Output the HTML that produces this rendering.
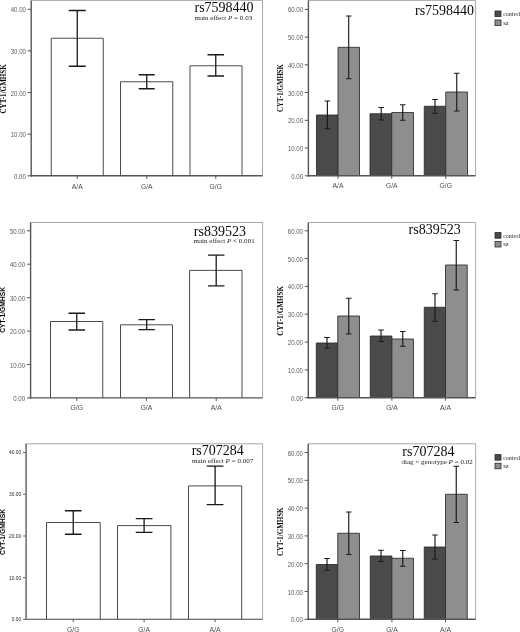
<!DOCTYPE html>
<html><head><meta charset="utf-8"><title>CYT-1/GMHSK by genotype</title>
<style>
html,body{margin:0;padding:0;background:#fff;}
body{width:520px;height:632px;overflow:hidden;font-family:"Liberation Serif",serif;}
svg{display:block;filter:grayscale(1);}
</style></head><body>
<svg width="520" height="632" viewBox="0 0 520 632">
<rect width="520" height="632" fill="#fff"/>
<line x1="27.599999999999998" y1="9.3" x2="31.2" y2="9.3" stroke="#555" stroke-width="1"/>
<text x="25.9" y="12.3" text-anchor="end" textLength="15.2" lengthAdjust="spacingAndGlyphs" font-family='"Liberation Sans", sans-serif' font-size="7.2" fill="#5a5a5a">40.00</text>
<line x1="27.599999999999998" y1="50.8" x2="31.2" y2="50.8" stroke="#555" stroke-width="1"/>
<text x="25.9" y="53.8" text-anchor="end" textLength="15.2" lengthAdjust="spacingAndGlyphs" font-family='"Liberation Sans", sans-serif' font-size="7.2" fill="#5a5a5a">30.00</text>
<line x1="27.599999999999998" y1="92.5" x2="31.2" y2="92.5" stroke="#555" stroke-width="1"/>
<text x="25.9" y="95.5" text-anchor="end" textLength="15.2" lengthAdjust="spacingAndGlyphs" font-family='"Liberation Sans", sans-serif' font-size="7.2" fill="#5a5a5a">20.00</text>
<line x1="27.599999999999998" y1="134.2" x2="31.2" y2="134.2" stroke="#555" stroke-width="1"/>
<text x="25.9" y="137.2" text-anchor="end" textLength="15.2" lengthAdjust="spacingAndGlyphs" font-family='"Liberation Sans", sans-serif' font-size="7.2" fill="#5a5a5a">10.00</text>
<line x1="27.599999999999998" y1="175.8" x2="31.2" y2="175.8" stroke="#555" stroke-width="1"/>
<text x="25.9" y="178.8" text-anchor="end" textLength="11.9" lengthAdjust="spacingAndGlyphs" font-family='"Liberation Sans", sans-serif' font-size="7.2" fill="#5a5a5a">0.00</text>
<path d="M51.25 175.8V38.25H103.25V175.8" fill="#fff" stroke="#2a2a2a" stroke-width="0.85"/>
<path d="M120.5 175.8V81.75H172.75V175.8" fill="#fff" stroke="#2a2a2a" stroke-width="0.85"/>
<path d="M190 175.8V65.75H242V175.8" fill="#fff" stroke="#2a2a2a" stroke-width="0.85"/>
<path d="M77.25 10.5V66.25M68.75 10.5H85.75M68.75 66.25H85.75" fill="none" stroke="#1a1a1a" stroke-width="1.3"/>
<path d="M146.75 74.75V88.75M138.75 74.75H154.75M138.75 88.75H154.75" fill="none" stroke="#1a1a1a" stroke-width="1.3"/>
<path d="M215.75 54.75V76M207.5 54.75H224.0M207.5 76H224.0" fill="none" stroke="#1a1a1a" stroke-width="1.3"/>
<path d="M31.2 0.4H262.5V175.8" fill="none" stroke="#a8a8a8" stroke-width="1"/>
<path d="M30.5 175.8H262.5" fill="none" stroke="#555" stroke-width="1.4"/>
<path d="M31.2 0.4V176.5" fill="none" stroke="#555" stroke-width="1.4"/>
<line x1="77.25" y1="175.8" x2="77.25" y2="178.8" stroke="#555" stroke-width="1"/>
<text x="77.25" y="188.6" text-anchor="middle" textLength="11.0" lengthAdjust="spacingAndGlyphs" font-family='"Liberation Sans", sans-serif' font-size="7.3" fill="#4c4c4c">A/A</text>
<line x1="146.75" y1="175.8" x2="146.75" y2="178.8" stroke="#555" stroke-width="1"/>
<text x="146.75" y="188.6" text-anchor="middle" textLength="11.5" lengthAdjust="spacingAndGlyphs" font-family='"Liberation Sans", sans-serif' font-size="7.3" fill="#4c4c4c">G/A</text>
<line x1="215.75" y1="175.8" x2="215.75" y2="178.8" stroke="#555" stroke-width="1"/>
<text x="215.75" y="188.6" text-anchor="middle" textLength="12.4" lengthAdjust="spacingAndGlyphs" font-family='"Liberation Sans", sans-serif' font-size="7.3" fill="#4c4c4c">G/G</text>
<text transform="translate(5.9 88.9) rotate(-90)" text-anchor="middle" textLength="49.4" lengthAdjust="spacingAndGlyphs" font-family='"Liberation Serif", serif' font-weight="bold" font-size="8.2" fill="#0c0c0c">CYT-1/GMHSK</text>
<text x="253.6" y="11.8" text-anchor="end" font-family='"Liberation Serif", serif' font-size="14" fill="#0a0a0a">rs7598440</text>
<text x="194.5" y="20.2" textLength="57.7" lengthAdjust="spacingAndGlyphs" font-family='"Liberation Serif", serif' font-size="7" fill="#222">main effect <tspan font-style="italic">P</tspan> = 0.03</text>
<line x1="304.79999999999995" y1="9.4" x2="308.4" y2="9.4" stroke="#555" stroke-width="1"/>
<text x="303.09999999999997" y="12.4" text-anchor="end" textLength="15.2" lengthAdjust="spacingAndGlyphs" font-family='"Liberation Sans", sans-serif' font-size="7.2" fill="#5a5a5a">60.00</text>
<line x1="304.79999999999995" y1="37.1" x2="308.4" y2="37.1" stroke="#555" stroke-width="1"/>
<text x="303.09999999999997" y="40.1" text-anchor="end" textLength="15.2" lengthAdjust="spacingAndGlyphs" font-family='"Liberation Sans", sans-serif' font-size="7.2" fill="#5a5a5a">50.00</text>
<line x1="304.79999999999995" y1="64.8" x2="308.4" y2="64.8" stroke="#555" stroke-width="1"/>
<text x="303.09999999999997" y="67.8" text-anchor="end" textLength="15.2" lengthAdjust="spacingAndGlyphs" font-family='"Liberation Sans", sans-serif' font-size="7.2" fill="#5a5a5a">40.00</text>
<line x1="304.79999999999995" y1="92.5" x2="308.4" y2="92.5" stroke="#555" stroke-width="1"/>
<text x="303.09999999999997" y="95.5" text-anchor="end" textLength="15.2" lengthAdjust="spacingAndGlyphs" font-family='"Liberation Sans", sans-serif' font-size="7.2" fill="#5a5a5a">30.00</text>
<line x1="304.79999999999995" y1="120.3" x2="308.4" y2="120.3" stroke="#555" stroke-width="1"/>
<text x="303.09999999999997" y="123.3" text-anchor="end" textLength="15.2" lengthAdjust="spacingAndGlyphs" font-family='"Liberation Sans", sans-serif' font-size="7.2" fill="#5a5a5a">20.00</text>
<line x1="304.79999999999995" y1="148" x2="308.4" y2="148" stroke="#555" stroke-width="1"/>
<text x="303.09999999999997" y="151.0" text-anchor="end" textLength="15.2" lengthAdjust="spacingAndGlyphs" font-family='"Liberation Sans", sans-serif' font-size="7.2" fill="#5a5a5a">10.00</text>
<line x1="304.79999999999995" y1="175.8" x2="308.4" y2="175.8" stroke="#555" stroke-width="1"/>
<text x="303.09999999999997" y="178.8" text-anchor="end" textLength="11.9" lengthAdjust="spacingAndGlyphs" font-family='"Liberation Sans", sans-serif' font-size="7.2" fill="#5a5a5a">0.00</text>
<path d="M316.5 175.8V115H338V175.8" fill="#4a4a4a" stroke="#2a2a2a" stroke-width="0.85"/>
<path d="M338 175.8V47.3H359.5V175.8" fill="#8e8e8e" stroke="#2a2a2a" stroke-width="0.85"/>
<path d="M370 175.8V113.75H391.75V175.8" fill="#4a4a4a" stroke="#2a2a2a" stroke-width="0.85"/>
<path d="M391.75 175.8V112.5H413.5V175.8" fill="#8e8e8e" stroke="#2a2a2a" stroke-width="0.85"/>
<path d="M424.25 175.8V106.25H445.75V175.8" fill="#4a4a4a" stroke="#2a2a2a" stroke-width="0.85"/>
<path d="M445.75 175.8V92H467.5V175.8" fill="#8e8e8e" stroke="#2a2a2a" stroke-width="0.85"/>
<path d="M327.4 101V128.75M324.59999999999997 101H330.2M324.59999999999997 128.75H330.2" fill="none" stroke="#1a1a1a" stroke-width="1.15"/>
<path d="M348.7 16V78.75M345.9 16H351.5M345.9 78.75H351.5" fill="none" stroke="#1a1a1a" stroke-width="1.15"/>
<path d="M381.2 107.5V120M378.4 107.5H384.0M378.4 120H384.0" fill="none" stroke="#1a1a1a" stroke-width="1.15"/>
<path d="M402.75 104.75V120.25M399.95 104.75H405.55M399.95 120.25H405.55" fill="none" stroke="#1a1a1a" stroke-width="1.15"/>
<path d="M435 99.5V113.25M432.2 99.5H437.8M432.2 113.25H437.8" fill="none" stroke="#1a1a1a" stroke-width="1.15"/>
<path d="M456.75 73.25V111M453.95 73.25H459.55M453.95 111H459.55" fill="none" stroke="#1a1a1a" stroke-width="1.15"/>
<path d="M308.4 0.4H475.6V175.8" fill="none" stroke="#a8a8a8" stroke-width="1"/>
<path d="M307.7 175.8H475.6" fill="none" stroke="#555" stroke-width="1.4"/>
<path d="M308.4 0.4V176.5" fill="none" stroke="#555" stroke-width="1.4"/>
<line x1="338" y1="175.8" x2="338" y2="178.8" stroke="#555" stroke-width="1"/>
<text x="338" y="188.2" text-anchor="middle" textLength="11.0" lengthAdjust="spacingAndGlyphs" font-family='"Liberation Sans", sans-serif' font-size="7.3" fill="#4c4c4c">A/A</text>
<line x1="391.75" y1="175.8" x2="391.75" y2="178.8" stroke="#555" stroke-width="1"/>
<text x="391.75" y="188.2" text-anchor="middle" textLength="11.5" lengthAdjust="spacingAndGlyphs" font-family='"Liberation Sans", sans-serif' font-size="7.3" fill="#4c4c4c">G/A</text>
<line x1="445.75" y1="175.8" x2="445.75" y2="178.8" stroke="#555" stroke-width="1"/>
<text x="445.75" y="188.2" text-anchor="middle" textLength="12.4" lengthAdjust="spacingAndGlyphs" font-family='"Liberation Sans", sans-serif' font-size="7.3" fill="#4c4c4c">G/G</text>
<text transform="translate(282.8 88) rotate(-90)" text-anchor="middle" textLength="47.8" lengthAdjust="spacingAndGlyphs" font-family='"Liberation Serif", serif' font-weight="bold" font-size="8.4" fill="#0c0c0c">CYT-1/GMHSK</text>
<text x="474.1" y="14.7" text-anchor="end" font-family='"Liberation Serif", serif' font-size="14" fill="#0a0a0a">rs7598440</text>
<rect x="495" y="11" width="6" height="5.6" fill="#4a4a4a" stroke="#2a2a2a" stroke-width="0.8"/>
<rect x="495" y="20" width="6" height="5.6" fill="#8e8e8e" stroke="#2a2a2a" stroke-width="0.8"/>
<text x="503.2" y="16" font-family='"Liberation Serif", serif' font-size="6.5" fill="#222" textLength="17" lengthAdjust="spacingAndGlyphs">control</text>
<text x="503.2" y="25" font-family='"Liberation Serif", serif' font-size="6.5" fill="#222">sz</text>
<line x1="27.0" y1="230.8" x2="30.6" y2="230.8" stroke="#555" stroke-width="1"/>
<text x="25.1" y="233.8" text-anchor="end" textLength="15.2" lengthAdjust="spacingAndGlyphs" font-family='"Liberation Sans", sans-serif' font-size="7.2" fill="#5a5a5a">50.00</text>
<line x1="27.0" y1="264.2" x2="30.6" y2="264.2" stroke="#555" stroke-width="1"/>
<text x="25.1" y="267.2" text-anchor="end" textLength="15.2" lengthAdjust="spacingAndGlyphs" font-family='"Liberation Sans", sans-serif' font-size="7.2" fill="#5a5a5a">40.00</text>
<line x1="27.0" y1="297.7" x2="30.6" y2="297.7" stroke="#555" stroke-width="1"/>
<text x="25.1" y="300.7" text-anchor="end" textLength="15.2" lengthAdjust="spacingAndGlyphs" font-family='"Liberation Sans", sans-serif' font-size="7.2" fill="#5a5a5a">30.00</text>
<line x1="27.0" y1="331.1" x2="30.6" y2="331.1" stroke="#555" stroke-width="1"/>
<text x="25.1" y="334.1" text-anchor="end" textLength="15.2" lengthAdjust="spacingAndGlyphs" font-family='"Liberation Sans", sans-serif' font-size="7.2" fill="#5a5a5a">20.00</text>
<line x1="27.0" y1="364.5" x2="30.6" y2="364.5" stroke="#555" stroke-width="1"/>
<text x="25.1" y="367.5" text-anchor="end" textLength="15.2" lengthAdjust="spacingAndGlyphs" font-family='"Liberation Sans", sans-serif' font-size="7.2" fill="#5a5a5a">10.00</text>
<line x1="27.0" y1="397.9" x2="30.6" y2="397.9" stroke="#555" stroke-width="1"/>
<text x="25.1" y="400.9" text-anchor="end" textLength="11.9" lengthAdjust="spacingAndGlyphs" font-family='"Liberation Sans", sans-serif' font-size="7.2" fill="#5a5a5a">0.00</text>
<path d="M50.5 397.9V321.5H102.75V397.9" fill="#fff" stroke="#2a2a2a" stroke-width="0.85"/>
<path d="M120.5 397.9V324.8H172.5V397.9" fill="#fff" stroke="#2a2a2a" stroke-width="0.85"/>
<path d="M189.6 397.9V270.4H242V397.9" fill="#fff" stroke="#2a2a2a" stroke-width="0.85"/>
<path d="M76.75 313.25V330M68.5 313.25H85.0M68.5 330H85.0" fill="none" stroke="#1a1a1a" stroke-width="1.3"/>
<path d="M146.7 319.7V329.6M138.45 319.7H154.95M138.45 329.6H154.95" fill="none" stroke="#1a1a1a" stroke-width="1.3"/>
<path d="M216.2 255.1V285.8M207.95 255.1H224.45M207.95 285.8H224.45" fill="none" stroke="#1a1a1a" stroke-width="1.3"/>
<path d="M30.6 222.5H262.6V397.9" fill="none" stroke="#a8a8a8" stroke-width="1"/>
<path d="M29.900000000000002 397.9H262.6" fill="none" stroke="#555" stroke-width="1.25"/>
<path d="M30.6 222.5V398.525" fill="none" stroke="#555" stroke-width="1.4"/>
<line x1="76.75" y1="397.9" x2="76.75" y2="400.9" stroke="#555" stroke-width="1"/>
<text x="76.75" y="410.4" text-anchor="middle" textLength="12.4" lengthAdjust="spacingAndGlyphs" font-family='"Liberation Sans", sans-serif' font-size="7.3" fill="#4c4c4c">G/G</text>
<line x1="146.4" y1="397.9" x2="146.4" y2="400.9" stroke="#555" stroke-width="1"/>
<text x="146.4" y="410.4" text-anchor="middle" textLength="11.5" lengthAdjust="spacingAndGlyphs" font-family='"Liberation Sans", sans-serif' font-size="7.3" fill="#4c4c4c">G/A</text>
<line x1="216.2" y1="397.9" x2="216.2" y2="400.9" stroke="#555" stroke-width="1"/>
<text x="216.2" y="410.4" text-anchor="middle" textLength="11.0" lengthAdjust="spacingAndGlyphs" font-family='"Liberation Sans", sans-serif' font-size="7.3" fill="#4c4c4c">A/A</text>
<text transform="translate(5.2 309.9) rotate(-90)" text-anchor="middle" textLength="45.8" lengthAdjust="spacingAndGlyphs" font-family='"Liberation Sans", sans-serif' font-weight="bold" font-size="7" fill="#0c0c0c">CYT-1/GMHSK</text>
<text x="245.9" y="235.5" text-anchor="end" font-family='"Liberation Serif", serif' font-size="14" fill="#0a0a0a">rs839523</text>
<text x="193.5" y="243.3" textLength="61.2" lengthAdjust="spacingAndGlyphs" font-family='"Liberation Serif", serif' font-size="7" fill="#222">main effect <tspan font-style="italic">P</tspan> &lt; 0.001</text>
<line x1="304.7" y1="230.8" x2="308.3" y2="230.8" stroke="#555" stroke-width="1"/>
<text x="303.0" y="233.8" text-anchor="end" textLength="15.2" lengthAdjust="spacingAndGlyphs" font-family='"Liberation Sans", sans-serif' font-size="7.2" fill="#5a5a5a">60.00</text>
<line x1="304.7" y1="258.6" x2="308.3" y2="258.6" stroke="#555" stroke-width="1"/>
<text x="303.0" y="261.6" text-anchor="end" textLength="15.2" lengthAdjust="spacingAndGlyphs" font-family='"Liberation Sans", sans-serif' font-size="7.2" fill="#5a5a5a">50.00</text>
<line x1="304.7" y1="286.4" x2="308.3" y2="286.4" stroke="#555" stroke-width="1"/>
<text x="303.0" y="289.4" text-anchor="end" textLength="15.2" lengthAdjust="spacingAndGlyphs" font-family='"Liberation Sans", sans-serif' font-size="7.2" fill="#5a5a5a">40.00</text>
<line x1="304.7" y1="314.2" x2="308.3" y2="314.2" stroke="#555" stroke-width="1"/>
<text x="303.0" y="317.2" text-anchor="end" textLength="15.2" lengthAdjust="spacingAndGlyphs" font-family='"Liberation Sans", sans-serif' font-size="7.2" fill="#5a5a5a">30.00</text>
<line x1="304.7" y1="342.1" x2="308.3" y2="342.1" stroke="#555" stroke-width="1"/>
<text x="303.0" y="345.1" text-anchor="end" textLength="15.2" lengthAdjust="spacingAndGlyphs" font-family='"Liberation Sans", sans-serif' font-size="7.2" fill="#5a5a5a">20.00</text>
<line x1="304.7" y1="369.9" x2="308.3" y2="369.9" stroke="#555" stroke-width="1"/>
<text x="303.0" y="372.9" text-anchor="end" textLength="15.2" lengthAdjust="spacingAndGlyphs" font-family='"Liberation Sans", sans-serif' font-size="7.2" fill="#5a5a5a">10.00</text>
<line x1="304.7" y1="397.7" x2="308.3" y2="397.7" stroke="#555" stroke-width="1"/>
<text x="303.0" y="400.7" text-anchor="end" textLength="11.9" lengthAdjust="spacingAndGlyphs" font-family='"Liberation Sans", sans-serif' font-size="7.2" fill="#5a5a5a">0.00</text>
<path d="M316.25 397.7V343H337.75V397.7" fill="#4a4a4a" stroke="#2a2a2a" stroke-width="0.85"/>
<path d="M337.75 397.7V316H359.5V397.7" fill="#8e8e8e" stroke="#2a2a2a" stroke-width="0.85"/>
<path d="M370.25 397.7V336H391.9V397.7" fill="#4a4a4a" stroke="#2a2a2a" stroke-width="0.85"/>
<path d="M391.9 397.7V339H413.5V397.7" fill="#8e8e8e" stroke="#2a2a2a" stroke-width="0.85"/>
<path d="M424.25 397.7V307.25H445.5V397.7" fill="#4a4a4a" stroke="#2a2a2a" stroke-width="0.85"/>
<path d="M445.5 397.7V265H467.25V397.7" fill="#8e8e8e" stroke="#2a2a2a" stroke-width="0.85"/>
<path d="M327 337.5V348.25M324.2 337.5H329.8M324.2 348.25H329.8" fill="none" stroke="#1a1a1a" stroke-width="1.15"/>
<path d="M348.75 298.25V334M345.95 298.25H351.55M345.95 334H351.55" fill="none" stroke="#1a1a1a" stroke-width="1.15"/>
<path d="M381 330V341.5M378.2 330H383.8M378.2 341.5H383.8" fill="none" stroke="#1a1a1a" stroke-width="1.15"/>
<path d="M402.75 331.5V346.25M399.95 331.5H405.55M399.95 346.25H405.55" fill="none" stroke="#1a1a1a" stroke-width="1.15"/>
<path d="M435 293.75V321.25M432.2 293.75H437.8M432.2 321.25H437.8" fill="none" stroke="#1a1a1a" stroke-width="1.15"/>
<path d="M456.25 240.5V290M453.45 240.5H459.05M453.45 290H459.05" fill="none" stroke="#1a1a1a" stroke-width="1.15"/>
<path d="M308.3 222.5H475.7V397.7" fill="none" stroke="#a8a8a8" stroke-width="1"/>
<path d="M307.6 397.7H475.7" fill="none" stroke="#555" stroke-width="1.4"/>
<path d="M308.3 222.5V398.4" fill="none" stroke="#555" stroke-width="1.4"/>
<line x1="337.75" y1="397.7" x2="337.75" y2="400.7" stroke="#555" stroke-width="1"/>
<text x="337.75" y="409.9" text-anchor="middle" textLength="12.4" lengthAdjust="spacingAndGlyphs" font-family='"Liberation Sans", sans-serif' font-size="7.3" fill="#4c4c4c">G/G</text>
<line x1="391.9" y1="397.7" x2="391.9" y2="400.7" stroke="#555" stroke-width="1"/>
<text x="391.9" y="409.9" text-anchor="middle" textLength="11.5" lengthAdjust="spacingAndGlyphs" font-family='"Liberation Sans", sans-serif' font-size="7.3" fill="#4c4c4c">G/A</text>
<line x1="445.5" y1="397.7" x2="445.5" y2="400.7" stroke="#555" stroke-width="1"/>
<text x="445.5" y="409.9" text-anchor="middle" textLength="11.0" lengthAdjust="spacingAndGlyphs" font-family='"Liberation Sans", sans-serif' font-size="7.3" fill="#4c4c4c">A/A</text>
<text transform="translate(282.8 310.8) rotate(-90)" text-anchor="middle" textLength="50.0" lengthAdjust="spacingAndGlyphs" font-family='"Liberation Serif", serif' font-weight="bold" font-size="8.4" fill="#0c0c0c">CYT-1/GMHSK</text>
<text x="460.7" y="234.4" text-anchor="end" font-family='"Liberation Serif", serif' font-size="14" fill="#0a0a0a">rs839523</text>
<rect x="495" y="232.6" width="6" height="5.6" fill="#4a4a4a" stroke="#2a2a2a" stroke-width="0.8"/>
<rect x="495" y="241.4" width="6" height="5.6" fill="#8e8e8e" stroke="#2a2a2a" stroke-width="0.8"/>
<text x="503.2" y="237.6" font-family='"Liberation Serif", serif' font-size="6.5" fill="#222" textLength="17" lengthAdjust="spacingAndGlyphs">control</text>
<text x="503.2" y="246.4" font-family='"Liberation Serif", serif' font-size="6.5" fill="#222">sz</text>
<line x1="23.1" y1="452.5" x2="26.1" y2="452.5" stroke="#555" stroke-width="1"/>
<text x="21.200000000000003" y="454.3" text-anchor="end" textLength="12.2" lengthAdjust="spacingAndGlyphs" font-family='"Liberation Sans", sans-serif' font-size="5" fill="#262626">40.00</text>
<line x1="23.1" y1="494.2" x2="26.1" y2="494.2" stroke="#555" stroke-width="1"/>
<text x="21.200000000000003" y="496.0" text-anchor="end" textLength="12.2" lengthAdjust="spacingAndGlyphs" font-family='"Liberation Sans", sans-serif' font-size="5" fill="#262626">30.00</text>
<line x1="23.1" y1="536" x2="26.1" y2="536" stroke="#555" stroke-width="1"/>
<text x="21.200000000000003" y="537.8" text-anchor="end" textLength="12.2" lengthAdjust="spacingAndGlyphs" font-family='"Liberation Sans", sans-serif' font-size="5" fill="#262626">20.00</text>
<line x1="23.1" y1="577.7" x2="26.1" y2="577.7" stroke="#555" stroke-width="1"/>
<text x="21.200000000000003" y="579.5" text-anchor="end" textLength="12.2" lengthAdjust="spacingAndGlyphs" font-family='"Liberation Sans", sans-serif' font-size="5" fill="#262626">10.00</text>
<line x1="23.1" y1="619.4" x2="26.1" y2="619.4" stroke="#555" stroke-width="1"/>
<text x="21.200000000000003" y="621.1999999999999" text-anchor="end" textLength="9.4" lengthAdjust="spacingAndGlyphs" font-family='"Liberation Sans", sans-serif' font-size="5" fill="#262626">0.00</text>
<path d="M46.5 619.3V522.5H100.25V619.3" fill="#fff" stroke="#2a2a2a" stroke-width="0.85"/>
<path d="M117.5 619.3V525.6H170.9V619.3" fill="#fff" stroke="#2a2a2a" stroke-width="0.85"/>
<path d="M188.5 619.3V485.9H241.7V619.3" fill="#fff" stroke="#2a2a2a" stroke-width="0.85"/>
<path d="M73.25 510.75V534.25M64.9 510.75H81.6M64.9 534.25H81.6" fill="none" stroke="#1a1a1a" stroke-width="1.3"/>
<path d="M144.1 518.6V532.3M135.75 518.6H152.45M135.75 532.3H152.45" fill="none" stroke="#1a1a1a" stroke-width="1.3"/>
<path d="M215.1 466.2V504.7M206.75 466.2H223.45M206.75 504.7H223.45" fill="none" stroke="#1a1a1a" stroke-width="1.3"/>
<path d="M26.1 443.8H262.6V619.3" fill="none" stroke="#a8a8a8" stroke-width="1"/>
<path d="M25.25 619.3H262.6" fill="none" stroke="#444" stroke-width="1.1"/>
<path d="M26.1 443.8V619.8499999999999" fill="none" stroke="#7a7a7a" stroke-width="1.7"/>
<line x1="73.25" y1="619.3" x2="73.25" y2="622.3" stroke="#555" stroke-width="1"/>
<text x="73.25" y="631.6" text-anchor="middle" textLength="12.4" lengthAdjust="spacingAndGlyphs" font-family='"Liberation Sans", sans-serif' font-size="7.3" fill="#4c4c4c">G/G</text>
<line x1="144.1" y1="619.3" x2="144.1" y2="622.3" stroke="#555" stroke-width="1"/>
<text x="144.1" y="631.6" text-anchor="middle" textLength="11.5" lengthAdjust="spacingAndGlyphs" font-family='"Liberation Sans", sans-serif' font-size="7.3" fill="#4c4c4c">G/A</text>
<line x1="215.1" y1="619.3" x2="215.1" y2="622.3" stroke="#555" stroke-width="1"/>
<text x="215.1" y="631.6" text-anchor="middle" textLength="11.0" lengthAdjust="spacingAndGlyphs" font-family='"Liberation Sans", sans-serif' font-size="7.3" fill="#4c4c4c">A/A</text>
<text transform="translate(5.4 532) rotate(-90)" text-anchor="middle" textLength="46.2" lengthAdjust="spacingAndGlyphs" font-family='"Liberation Sans", sans-serif' font-weight="bold" font-size="7.2" fill="#0c0c0c">CYT-1/GMHSK</text>
<text x="243.8" y="454.7" text-anchor="end" font-family='"Liberation Serif", serif' font-size="14" fill="#0a0a0a">rs707284</text>
<text x="191.9" y="463.1" textLength="61.4" lengthAdjust="spacingAndGlyphs" font-family='"Liberation Serif", serif' font-size="7" fill="#222">main effect <tspan font-style="italic">P</tspan> = 0.007</text>
<line x1="304.59999999999997" y1="452.5" x2="308.2" y2="452.5" stroke="#555" stroke-width="1"/>
<text x="302.9" y="455.5" text-anchor="end" textLength="15.2" lengthAdjust="spacingAndGlyphs" font-family='"Liberation Sans", sans-serif' font-size="7.2" fill="#5a5a5a">60.00</text>
<line x1="304.59999999999997" y1="480.3" x2="308.2" y2="480.3" stroke="#555" stroke-width="1"/>
<text x="302.9" y="483.3" text-anchor="end" textLength="15.2" lengthAdjust="spacingAndGlyphs" font-family='"Liberation Sans", sans-serif' font-size="7.2" fill="#5a5a5a">50.00</text>
<line x1="304.59999999999997" y1="508.1" x2="308.2" y2="508.1" stroke="#555" stroke-width="1"/>
<text x="302.9" y="511.1" text-anchor="end" textLength="15.2" lengthAdjust="spacingAndGlyphs" font-family='"Liberation Sans", sans-serif' font-size="7.2" fill="#5a5a5a">40.00</text>
<line x1="304.59999999999997" y1="535.9" x2="308.2" y2="535.9" stroke="#555" stroke-width="1"/>
<text x="302.9" y="538.9" text-anchor="end" textLength="15.2" lengthAdjust="spacingAndGlyphs" font-family='"Liberation Sans", sans-serif' font-size="7.2" fill="#5a5a5a">30.00</text>
<line x1="304.59999999999997" y1="563.7" x2="308.2" y2="563.7" stroke="#555" stroke-width="1"/>
<text x="302.9" y="566.7" text-anchor="end" textLength="15.2" lengthAdjust="spacingAndGlyphs" font-family='"Liberation Sans", sans-serif' font-size="7.2" fill="#5a5a5a">20.00</text>
<line x1="304.59999999999997" y1="591.5" x2="308.2" y2="591.5" stroke="#555" stroke-width="1"/>
<text x="302.9" y="594.5" text-anchor="end" textLength="15.2" lengthAdjust="spacingAndGlyphs" font-family='"Liberation Sans", sans-serif' font-size="7.2" fill="#5a5a5a">10.00</text>
<line x1="304.59999999999997" y1="619.3" x2="308.2" y2="619.3" stroke="#555" stroke-width="1"/>
<text x="302.9" y="622.3" text-anchor="end" textLength="11.9" lengthAdjust="spacingAndGlyphs" font-family='"Liberation Sans", sans-serif' font-size="7.2" fill="#5a5a5a">0.00</text>
<path d="M316.25 619.3V564.5H337.75V619.3" fill="#4a4a4a" stroke="#2a2a2a" stroke-width="0.85"/>
<path d="M337.75 619.3V533.25H359.5V619.3" fill="#8e8e8e" stroke="#2a2a2a" stroke-width="0.85"/>
<path d="M370.25 619.3V556H391.9V619.3" fill="#4a4a4a" stroke="#2a2a2a" stroke-width="0.85"/>
<path d="M391.9 619.3V558.25H413.5V619.3" fill="#8e8e8e" stroke="#2a2a2a" stroke-width="0.85"/>
<path d="M424.25 619.3V547H445.5V619.3" fill="#4a4a4a" stroke="#2a2a2a" stroke-width="0.85"/>
<path d="M445.5 619.3V494.25H467.25V619.3" fill="#8e8e8e" stroke="#2a2a2a" stroke-width="0.85"/>
<path d="M327 558.5V570.25M324.2 558.5H329.8M324.2 570.25H329.8" fill="none" stroke="#1a1a1a" stroke-width="1.15"/>
<path d="M348.75 512V554.5M345.95 512H351.55M345.95 554.5H351.55" fill="none" stroke="#1a1a1a" stroke-width="1.15"/>
<path d="M381 550.25V561.5M378.2 550.25H383.8M378.2 561.5H383.8" fill="none" stroke="#1a1a1a" stroke-width="1.15"/>
<path d="M402.75 550.5V566.25M399.95 550.5H405.55M399.95 566.25H405.55" fill="none" stroke="#1a1a1a" stroke-width="1.15"/>
<path d="M435 535V559M432.2 535H437.8M432.2 559H437.8" fill="none" stroke="#1a1a1a" stroke-width="1.15"/>
<path d="M456.25 466.25V522.5M453.45 466.25H459.05M453.45 522.5H459.05" fill="none" stroke="#1a1a1a" stroke-width="1.15"/>
<path d="M308.2 443.8H475.7V619.3" fill="none" stroke="#a8a8a8" stroke-width="1"/>
<path d="M307.5 619.3H475.7" fill="none" stroke="#555" stroke-width="1.4"/>
<path d="M308.2 443.8V620.0" fill="none" stroke="#555" stroke-width="1.4"/>
<line x1="337.75" y1="619.3" x2="337.75" y2="622.3" stroke="#555" stroke-width="1"/>
<text x="337.75" y="631.8" text-anchor="middle" textLength="12.4" lengthAdjust="spacingAndGlyphs" font-family='"Liberation Sans", sans-serif' font-size="7.3" fill="#4c4c4c">G/G</text>
<line x1="391.9" y1="619.3" x2="391.9" y2="622.3" stroke="#555" stroke-width="1"/>
<text x="391.9" y="631.8" text-anchor="middle" textLength="11.5" lengthAdjust="spacingAndGlyphs" font-family='"Liberation Sans", sans-serif' font-size="7.3" fill="#4c4c4c">G/A</text>
<line x1="445.5" y1="619.3" x2="445.5" y2="622.3" stroke="#555" stroke-width="1"/>
<text x="445.5" y="631.8" text-anchor="middle" textLength="11.0" lengthAdjust="spacingAndGlyphs" font-family='"Liberation Sans", sans-serif' font-size="7.3" fill="#4c4c4c">A/A</text>
<text transform="translate(282.8 531.8) rotate(-90)" text-anchor="middle" textLength="48.6" lengthAdjust="spacingAndGlyphs" font-family='"Liberation Serif", serif' font-weight="bold" font-size="8.4" fill="#0c0c0c">CYT-1/GMHSK</text>
<text x="454.4" y="455.7" text-anchor="end" font-family='"Liberation Serif", serif' font-size="14" fill="#0a0a0a">rs707284</text>
<text x="401.5" y="464.0" textLength="71.2" lengthAdjust="spacingAndGlyphs" font-family='"Liberation Serif", serif' font-size="7" fill="#222">diag × genotype <tspan font-style="italic">P</tspan> = 0.02</text>
<rect x="495" y="454.6" width="6" height="5.6" fill="#4a4a4a" stroke="#2a2a2a" stroke-width="0.8"/>
<rect x="495" y="463.2" width="6" height="5.6" fill="#8e8e8e" stroke="#2a2a2a" stroke-width="0.8"/>
<text x="503.2" y="459.6" font-family='"Liberation Serif", serif' font-size="6.5" fill="#222" textLength="17" lengthAdjust="spacingAndGlyphs">control</text>
<text x="503.2" y="468.2" font-family='"Liberation Serif", serif' font-size="6.5" fill="#222">sz</text>
</svg>
</body></html>
